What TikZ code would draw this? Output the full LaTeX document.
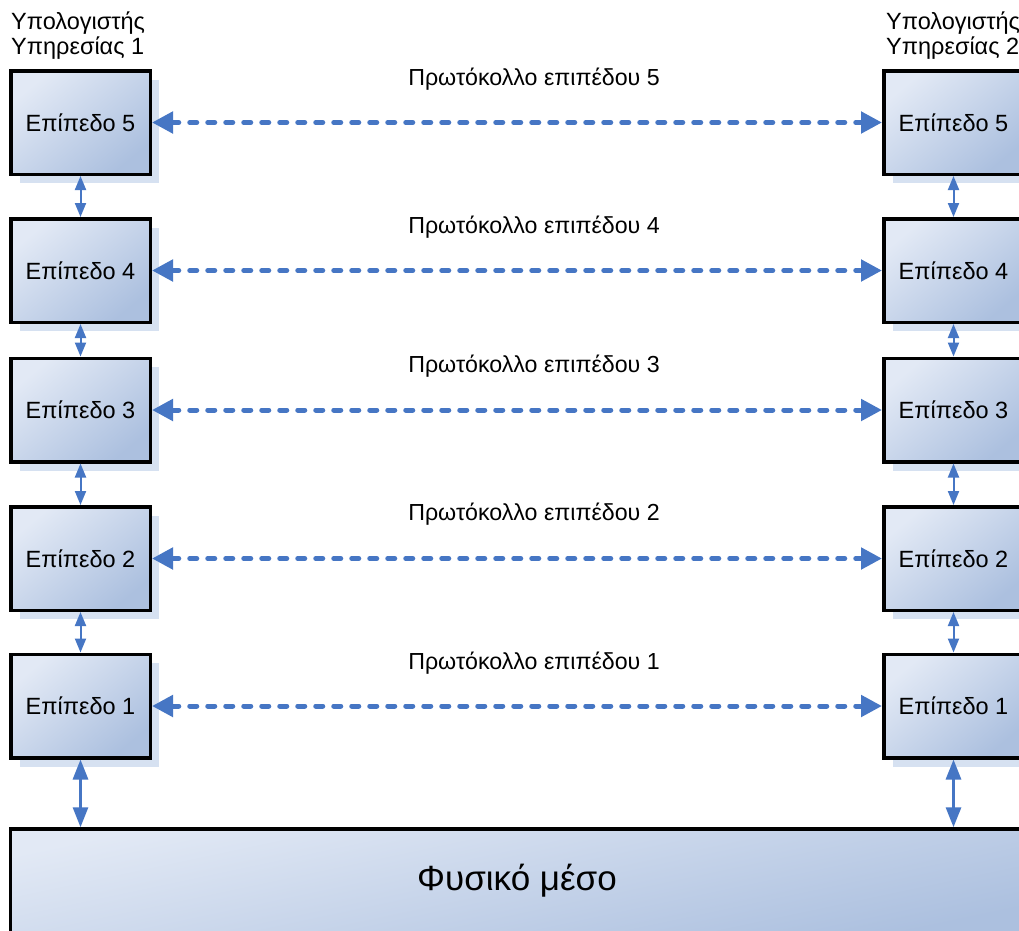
\documentclass[tikz,border=0pt]{standalone}
\usepackage{fontspec}
\setmainfont{Liberation Sans}
\usetikzlibrary{arrows.meta,shadows}

\definecolor{arrowblue}{RGB}{70,118,196}
\definecolor{boxlight}{RGB}{226,233,245}
\definecolor{boxdark}{RGB}{172,192,223}
\definecolor{shadowblue}{RGB}{214,225,241}

\begin{document}
\begin{tikzpicture}[x=1pt,y=-1pt,
  layer/.style={draw=black, line width=3.5pt, minimum width=139.5pt,
    minimum height=103.5pt, inner sep=0pt,
    top color=boxlight, bottom color=boxdark, shading angle=40,
    font=\fontsize{23.5}{28}\selectfont,
    drop shadow={shadow xshift=9pt, shadow yshift=-9pt, fill=shadowblue, opacity=1}},
  medium/.style={draw=black, line width=3.5pt, minimum width=1013pt,
    minimum height=104pt, inner sep=0pt,
    top color=boxlight, bottom color=boxdark, shading angle=12,
    font=\fontsize{35}{40}\selectfont},
  plabel/.style={anchor=base, inner sep=0pt, font=\fontsize{23.2}{28}\selectfont},
  hostlabel/.style={anchor=base west, inner sep=0pt, align=left,
    font=\fontsize{23.5}{25}\selectfont},
  proto/.style={draw=arrowblue, line width=5pt, dash pattern=on 7pt off 11pt,
    line cap=round,
    {Triangle[length=21pt,width=21pt]}-{Triangle[length=21pt,width=21pt]}},
  vlink/.style={draw=arrowblue, line width=2pt,
    {Triangle[length=14pt,width=11pt]}-{Triangle[length=14pt,width=11pt]}},
  blink/.style={draw=arrowblue, line width=3pt,
    {Triangle[length=20pt,width=15pt]}-{Triangle[length=20pt,width=15pt]}},
]
\useasboundingbox (0,0) rectangle (1019,930);
\fill[white] (0,0) rectangle (1019,930);
\clip (0,0) rectangle (1019,930);

% host captions
\node[hostlabel] (H1a) at (11,29) {Υπολογιστής};
\node[hostlabel] (H1b) at (11,54) {Υπηρεσίας 1};
\node[hostlabel] (H2a) at (886,29) {Υπολογιστής};
\node[hostlabel] (H2b) at (886,54) {Υπηρεσίας 2};

% layer stacks of the two hosts
\node[layer] (L5) at (80.5,122.5) {Επίπεδο 5};
\node[layer] (L4) at (80.5,270.5) {Επίπεδο 4};
\node[layer] (L3) at (80.5,410) {Επίπεδο 3};
\node[layer] (L2) at (80.5,558.5) {Επίπεδο 2};
\node[layer] (L1) at (80.5,706) {Επίπεδο 1};

\node[layer] (R5) at (953.5,122.5) {Επίπεδο 5};
\node[layer] (R4) at (953.5,270.5) {Επίπεδο 4};
\node[layer] (R3) at (953.5,410) {Επίπεδο 3};
\node[layer] (R2) at (953.5,558.5) {Επίπεδο 2};
\node[layer] (R1) at (953.5,706) {Επίπεδο 1};

% physical medium
\node[medium] (PM) at (517,881) {Φυσικό μέσο};

% vertical links inside each host
\foreach \s in {L,R}{
  \draw[vlink] (\s5.south) -- (\s4.north);
  \draw[vlink] (\s4.south) -- (\s3.north);
  \draw[vlink] (\s3.south) -- (\s2.north);
  \draw[vlink] (\s2.south) -- (\s1.north);
  \draw[blink] (\s1.south) -- (\s1.south |- PM.north);
}

% peer protocols
\foreach \n in {1,...,5}{
  \draw[proto] (L\n.east) -- (R\n.west);
}
\node[plabel] (P5) at (534,85) {Πρωτόκολλο επιπέδου 5};
\node[plabel] (P4) at (534,233) {Πρωτόκολλο επιπέδου 4};
\node[plabel] (P3) at (534,372) {Πρωτόκολλο επιπέδου 3};
\node[plabel] (P2) at (534,520) {Πρωτόκολλο επιπέδου 2};
\node[plabel] (P1) at (534,669) {Πρωτόκολλο επιπέδου 1};
\end{tikzpicture}
\end{document}
